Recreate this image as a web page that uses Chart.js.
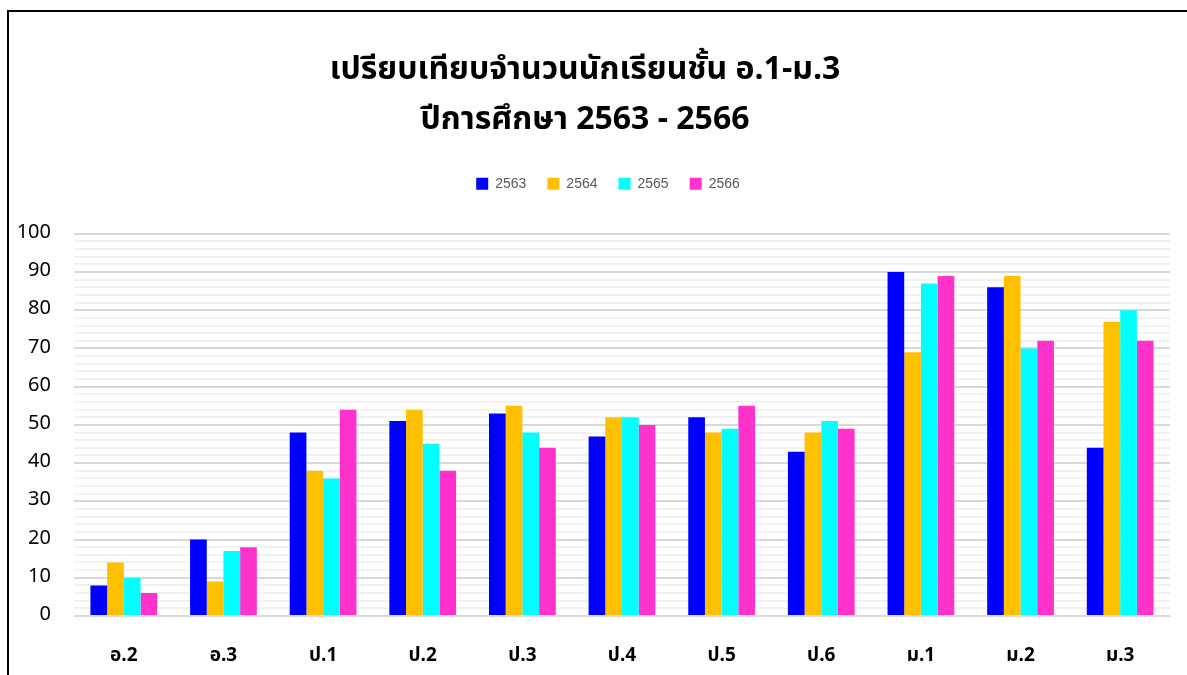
<!DOCTYPE html>
<html>
<head>
<meta charset="utf-8">
<script src="https://cdn.jsdelivr.net/npm/chart.js@4"></script>
<style>
  html, body { margin: 0; padding: 0; background: #fff; overflow: hidden; }
  #frame {
    position: absolute; left: 7px; top: 10px; width: 1300px; height: 800px;
    border-left: 2px solid #000; border-top: 2px solid #000;
  }
  #wrap { position: absolute; left: 0; top: 0; width: 1187px; height: 675px; }
</style>
</head>
<body>
<div id="frame"></div>
<div id="wrap"><canvas id="chart"></canvas></div>
<script>
const grades = ['อ.2', 'อ.3', 'ป.1', 'ป.2', 'ป.3', 'ป.4', 'ป.5', 'ป.6', 'ม.1', 'ม.2', 'ม.3'];
const years = ['2563', '2564', '2565', '2566'];
const y2563 = [8, 20, 48, 51, 53, 47, 52, 43, 90, 86, 44];
const y2564 = [14, 9, 38, 54, 55, 52, 48, 48, 69, 89, 77];
const y2565 = [10, 17, 36, 45, 48, 52, 49, 51, 87, 70, 80];
const y2566 = [6, 18, 54, 38, 44, 50, 55, 49, 89, 72, 72];
const yTickLabels = [0, 10, 20, 30, 40, 50, 60, 70, 80, 90, 100];

const colors = ['#0000ff', '#ffc000', '#00ffff', '#ff33cc'];
const thaiFont = "Tahoma, 'Leelawadee UI', 'Noto Sans Thai', 'Noto Sans', sans-serif";

// extra room under the legend, and nudge it a bit to the right
const legendGap = {
    id: 'legendGap',
    beforeInit(chart) {
        const fit = chart.legend.fit;
        chart.legend.fit = function () {
            fit.bind(chart.legend)();
            this.height += 33;
        };
    },
    afterLayout(chart) {
        chart.legend.left += 23;
        chart.legend.right += 23;
    }
};

const ctx = document.getElementById('chart').getContext('2d');
new Chart(ctx, {
    type: 'bar',
    data: {
        labels: grades,
        datasets: [y2563, y2564, y2565, y2566].map((vals, i) => ({
            label: years[i],
            data: vals,
            backgroundColor: colors[i],
            borderWidth: 0,
            barPercentage: 1.0,
            categoryPercentage: 0.67
        }))
    },
    options: {
        responsive: true,
        maintainAspectRatio: false,
        animation: false,
        layout: { padding: { left: 0, right: 17, top: 0, bottom: 0 } },
        plugins: {
            title: {
                display: true,
                text: ['เปรียบเทียบจำนวนนักเรียนชั้น อ.1-ม.3', 'ปีการศึกษา 2563 - 2566'],
                color: '#000',
                font: { family: thaiFont, size: 32, weight: 'bold', lineHeight: 1.56 },
                padding: { top: 48, bottom: 8 }
            },
            legend: {
                position: 'top',
                labels: {
                    boxWidth: 12,
                    boxHeight: 12,
                    padding: 21,
                    color: '#595959',
                    font: { family: "'Liberation Sans', Arial, sans-serif", size: 14 }
                }
            },
            tooltip: { enabled: false }
        },
        scales: {
            x: {
                grid: { display: false, drawTicks: false },
                border: { display: true, color: '#d9d9d9', width: 1 },
                ticks: {
                    color: '#000',
                    padding: 30,
                    font: { family: thaiFont, size: 19, weight: 'bold' }
                },
                afterFit: s => { s.height = 59; }
            },
            y: {
                min: 0,
                max: 100,
                border: { display: false },
                afterBuildTicks: s => {
                    const t = [];
                    for (let v = 0; v <= 100; v += 2) t.push({ value: v });
                    s.ticks = t;
                },
                grid: {
                    drawTicks: false,
                    lineWidth: 2,
                    color: c => (yTickLabels.includes(c.tick.value) ? '#d9d9d9' : '#f2f2f2')
                },
                ticks: {
                    autoSkip: false,
                    padding: 23,
                    color: '#000',
                    font: { family: thaiFont, size: 20 },
                    callback: v => (yTickLabels.includes(v) ? String(v) : '')
                },
                afterFit: s => { s.width = 74; }
            }
        }
    },
    plugins: [legendGap]
});
</script>
</body>
</html>
